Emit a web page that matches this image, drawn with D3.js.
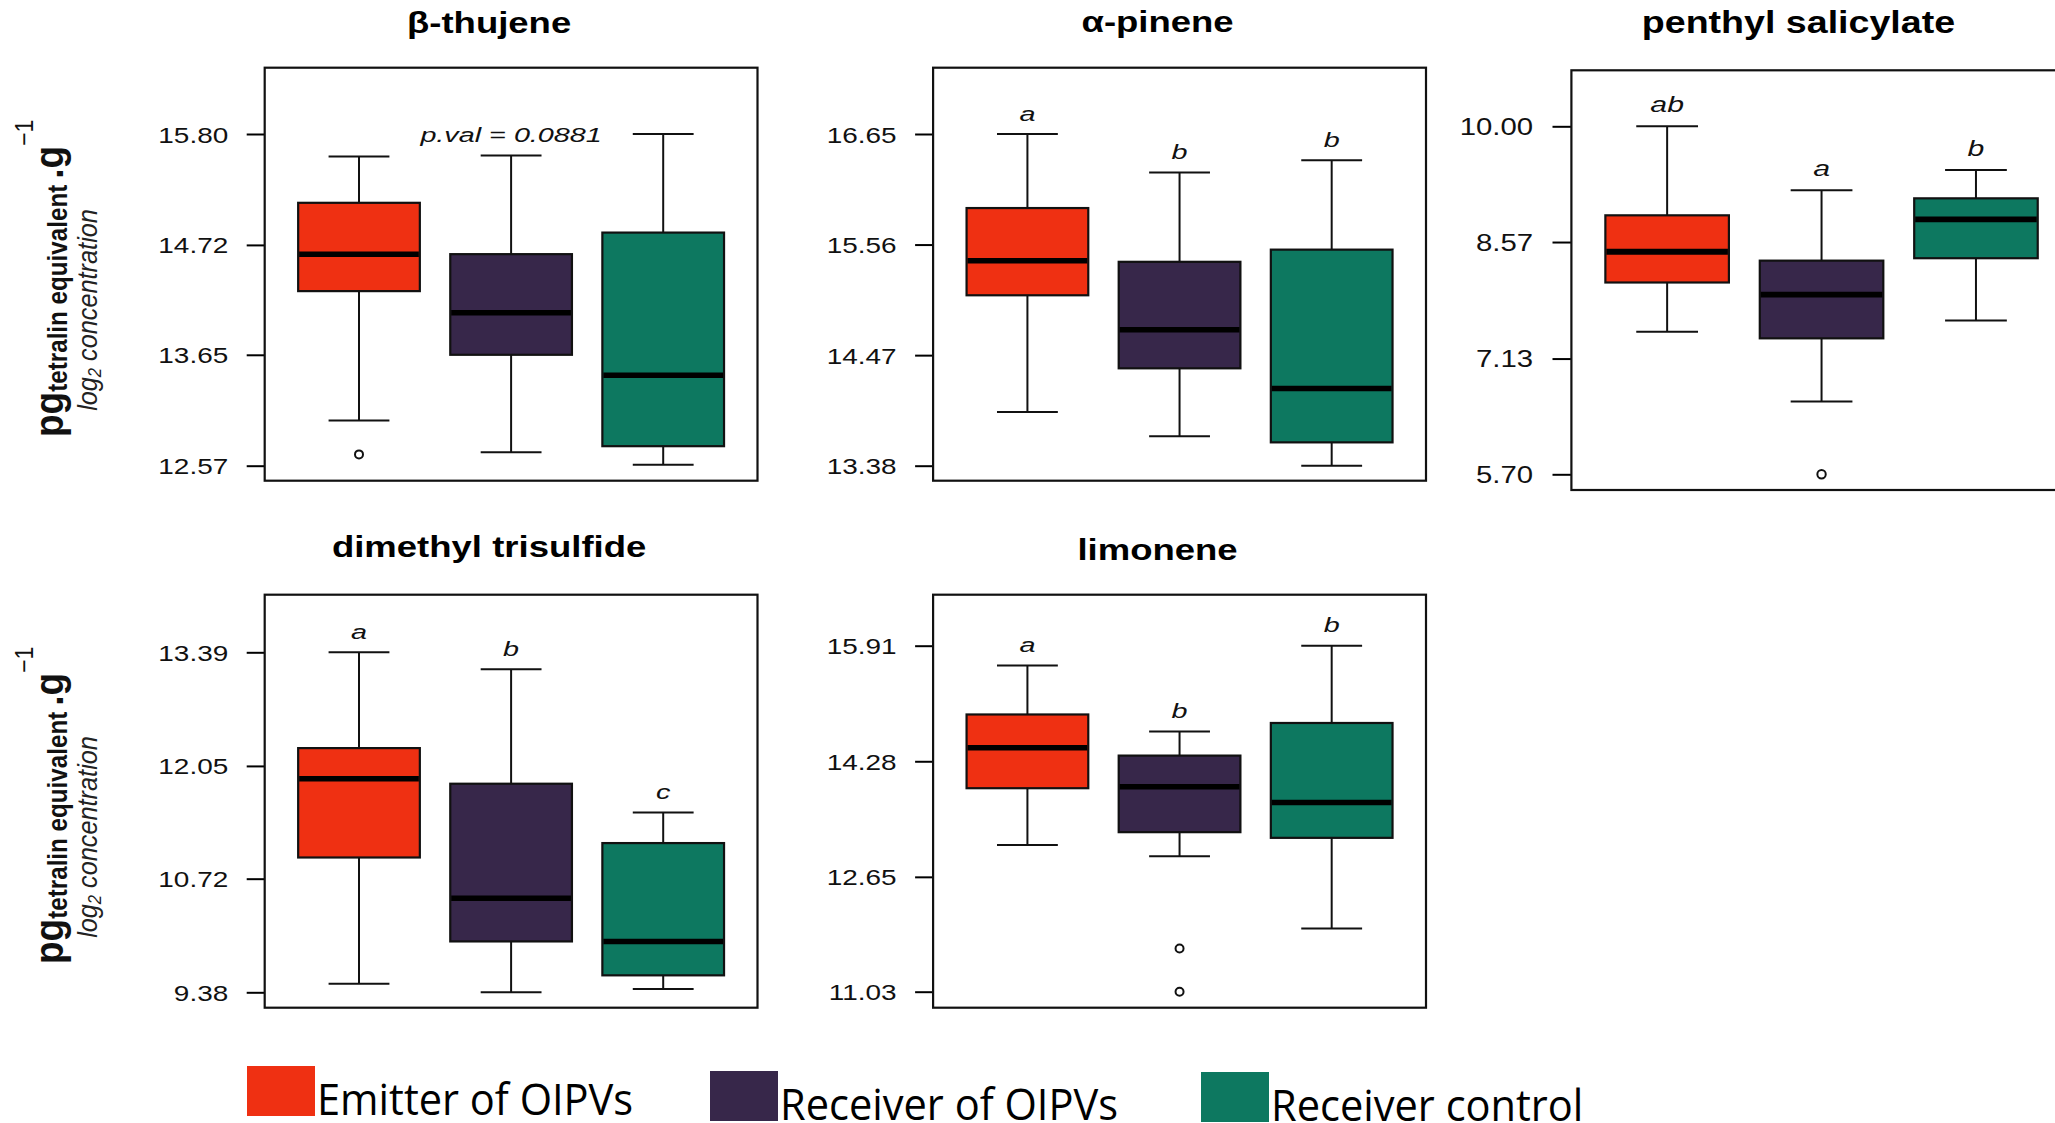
<!DOCTYPE html>
<html>
<head>
<meta charset="utf-8">
<script src="https://cdn.jsdelivr.net/npm/d3@7/dist/d3.min.js"></script>
<style>
  body { margin: 0; background: #fff; }
  svg { display: block; font-family: "Liberation Sans", Arial, Helvetica, sans-serif; }
</style>
</head>
<body>
<svg id="chart" width="2055" height="1123"></svg>
<script>
// groups and colours
const groups = ['Emitter of OIPVs', 'Receiver of OIPVs', 'Receiver control'];
const groupColors = ['#EF3012', '#37274A', '#0D7860'];

const compounds = ['β-thujene', 'α-pinene', 'penthyl salicylate', 'dimethyl trisulfide', 'limonene'];

// [lower whisker, Q1, median, Q3, upper whisker] per group
const thujeneStats = [[13.01, 14.27, 14.63, 15.13, 15.58], [12.70, 13.65, 14.06, 14.63, 15.59], [12.58, 12.76, 13.45, 14.84, 15.80]];
const pineneStats = [[13.91, 15.06, 15.40, 15.92, 16.65], [13.67, 14.34, 14.72, 15.39, 16.27], [13.38, 13.61, 14.14, 15.51, 16.39]];
const salicylateStats = [[7.46, 8.07, 8.45, 8.90, 10.00], [6.60, 7.38, 7.92, 8.34, 9.21], [7.60, 8.37, 8.85, 9.11, 9.46]];
const trisulfideStats = [[9.48, 10.97, 11.90, 12.26, 13.39], [9.38, 9.98, 10.49, 11.84, 13.19], [9.42, 9.58, 9.98, 11.14, 11.50]];
const limoneneStats = [[13.10, 13.90, 14.47, 14.94, 15.63], [12.94, 13.28, 13.92, 14.36, 14.70], [11.92, 13.20, 13.70, 14.82, 15.91]];

const thujeneOutliers = [[12.68], [], []];
const pineneOutliers = [[], [], []];
const salicylateOutliers = [[], [5.70], []];
const trisulfideOutliers = [[], [], []];
const limoneneOutliers = [[], [11.64, 11.03], []];

const thujeneTicks = [15.80, 14.72, 13.65, 12.57];
const pineneTicks = [16.65, 15.56, 14.47, 13.38];
const salicylateTicks = [10.00, 8.57, 7.13, 5.70];
const trisulfideTicks = [13.39, 12.05, 10.72, 9.38];
const limoneneTicks = [15.91, 14.28, 12.65, 11.03];

const thujeneLetters = ['', 'p.val = 0.0881', ''];
const pineneLetters = ['a', 'b', 'b'];
const salicylateLetters = ['ab', 'a', 'b'];
const trisulfideLetters = ['a', 'b', 'c'];
const limoneneLetters = ['a', 'b', 'b'];

const panels = [
  { title: compounds[0], stats: thujeneStats, outliers: thujeneOutliers, ticks: thujeneTicks, letters: thujeneLetters },
  { title: compounds[1], stats: pineneStats, outliers: pineneOutliers, ticks: pineneTicks, letters: pineneLetters },
  { title: compounds[2], stats: salicylateStats, outliers: salicylateOutliers, ticks: salicylateTicks, letters: salicylateLetters },
  { title: compounds[3], stats: trisulfideStats, outliers: trisulfideOutliers, ticks: trisulfideTicks, letters: trisulfideLetters },
  { title: compounds[4], stats: limoneneStats, outliers: limoneneOutliers, ticks: limoneneTicks, letters: limoneneLetters }
];

// where each panel sits on the page (the figure is a pasted composite, panel 3 a bit bigger)
const layout = [
  { left: 264.7, right: 757.5, top: 67.7, bottom: 480.7, yHi: 134, yLo: 465.7, titleY: 32.5, k: 1 },
  { left: 933.1, right: 1426, top: 67.7, bottom: 480.7, yHi: 134, yLo: 465.7, titleY: 31.5, k: 1 },
  { left: 1571.4, right: 2071.7, top: 70.3, bottom: 490, yHi: 126.3, yLo: 474.3, titleY: 33, k: 1.05 },
  { left: 264.7, right: 757.5, top: 594.7, bottom: 1007.7, yHi: 652.3, yLo: 992.3, titleY: 557, k: 1 },
  { left: 933.1, right: 1426, top: 594.7, bottom: 1007.7, yHi: 645.7, yLo: 991.7, titleY: 559.5, k: 1 }
];

const svg = d3.select('#chart');
const fmt = d3.format('.2f');
const SX = 1.27; // the composite was stretched sideways

panels.forEach((p, pi) => {
  const L = layout[pi];
  const g = svg.append('g').attr('class', 'panel');

  const x = d3.scaleBand()
    .domain(groups)
    .range([L.left, L.right])
    .paddingInner(0.2)
    .paddingOuter(0.22);

  const y = d3.scaleLinear()
    .domain([d3.min(p.ticks), d3.max(p.ticks)])
    .range([L.yLo, L.yHi]);

  // title
  g.append('text')
    .attr('transform', `translate(${(L.left + L.right) / 2 - 22 * L.k},${L.titleY}) scale(${1.217 * (pi === 2 ? 1.03 : 1)},${L.k})`)
    .attr('text-anchor', 'middle')
    .attr('font-weight', 'bold')
    .attr('font-size', 30)
    .text(p.title);

  // y axis
  const axis = g.append('g')
    .attr('transform', `translate(${L.left},0)`)
    .call(d3.axisLeft(y).tickValues(p.ticks).tickFormat(fmt).tickSize(18 * L.k).tickPadding(0));
  axis.select('.domain').remove();
  axis.selectAll('.tick line').attr('stroke', '#000').attr('stroke-width', 2);
  axis.selectAll('.tick text')
    .attr('x', null).attr('dy', null)
    .attr('transform', `translate(${-36.5 * L.k},${8 * L.k}) scale(${SX * L.k},${L.k})`)
    .attr('font-size', 22)
    .attr('font-family', '"Liberation Sans", Arial, sans-serif')
    .attr('fill', '#111');

  const bw = x.bandwidth();
  const boxes = g.selectAll('g.box')
    .data(p.stats)
    .join('g')
    .attr('class', 'box');

  boxes.each(function (s, i) {
    const b = d3.select(this);
    const cx = x(groups[i]) + bw / 2;
    const [lw, q1, med, q3, uw] = s;
    // whiskers
    b.append('line').attr('x1', cx).attr('x2', cx).attr('y1', y(uw)).attr('y2', y(q3))
      .attr('stroke', '#111').attr('stroke-width', 2);
    b.append('line').attr('x1', cx).attr('x2', cx).attr('y1', y(q1)).attr('y2', y(lw))
      .attr('stroke', '#111').attr('stroke-width', 2);
    [lw, uw].forEach(v => {
      b.append('line').attr('x1', cx - bw / 4).attr('x2', cx + bw / 4).attr('y1', y(v)).attr('y2', y(v))
        .attr('stroke', '#111').attr('stroke-width', 2);
    });
    // box
    b.append('rect')
      .attr('x', x(groups[i])).attr('width', bw)
      .attr('y', y(q3)).attr('height', y(q1) - y(q3))
      .attr('fill', groupColors[i]).attr('stroke', '#111').attr('stroke-width', 2.2);
    // median
    b.append('line').attr('x1', x(groups[i]) + 1).attr('x2', x(groups[i]) + bw - 1)
      .attr('y1', y(med)).attr('y2', y(med))
      .attr('stroke', '#000').attr('stroke-width', 5.5 * L.k);
    // outliers
    b.selectAll('circle')
      .data(p.outliers[i])
      .join('circle')
      .attr('cx', cx).attr('cy', d => y(d)).attr('r', 4 * L.k)
      .attr('fill', 'none').attr('stroke', '#111').attr('stroke-width', 2);
    // significance letter / p value
    if (p.letters[i]) {
      b.append('text')
        .attr('transform', `translate(${cx},${y(uw) - 13.5 * L.k}) scale(${1.37 * L.k},${L.k})`)
        .attr('text-anchor', 'middle')
        .attr('font-style', 'italic')
        .attr('font-size', 21)
        .attr('fill', '#111')
        .text(p.letters[i]);
    }
  });

  // frame
  g.append('rect')
    .attr('x', L.left).attr('y', L.top)
    .attr('width', L.right - L.left).attr('height', L.bottom - L.top)
    .attr('fill', 'none').attr('stroke', '#111').attr('stroke-width', 2.2);
});

// y axis titles, one per row
const rowShift = [0, 527];
rowShift.forEach(dy => {
  const t1 = svg.append('text')
    .attr('transform', `translate(63,${437 + dy}) scale(1.12,1) rotate(-90)`)
    .attr('font-weight', 'bold')
    .attr('fill', '#111');
  t1.append('tspan').attr('font-size', 37).text('pg');
  t1.append('tspan').attr('font-size', 24.2).attr('dy', 4).text('tetralin equivalent');
  t1.append('tspan').attr('font-size', 37).attr('dy', -4).attr('dx', 6).text('.g');
  t1.append('tspan').attr('font-size', 23).attr('font-weight', 'normal').attr('dy', -27).text('\u22121');

  const t2 = svg.append('text')
    .attr('transform', `translate(97,${310 + dy}) scale(1.1,1) rotate(-90)`)
    .attr('text-anchor', 'middle')
    .attr('font-style', 'italic')
    .attr('font-size', 25.3)
    .attr('fill', '#222');
  t2.append('tspan').text('log');
  t2.append('tspan').attr('font-size', 16.5).attr('dy', 4).text('2');
  t2.append('tspan').attr('dy', -4).text(' concentration');
});

// legend
const legendPos = [[247, 1066], [710, 1071], [1201, 1072]];
const legend = svg.append('g').attr('class', 'legend');
groups.forEach((name, i) => {
  const [lx, ly] = legendPos[i];
  legend.append('rect')
    .attr('x', lx).attr('y', ly).attr('width', 68).attr('height', 50)
    .attr('fill', groupColors[i]);
  legend.append('text')
    .attr('transform', `translate(${lx + 70},${ly + 49}) scale(0.945,1)`)
    .attr('font-family', '"Open Sans", sans-serif')
    .attr('font-size', 44)
    .attr('fill', '#000')
    .text(name);
});
</script>
</body>
</html>
